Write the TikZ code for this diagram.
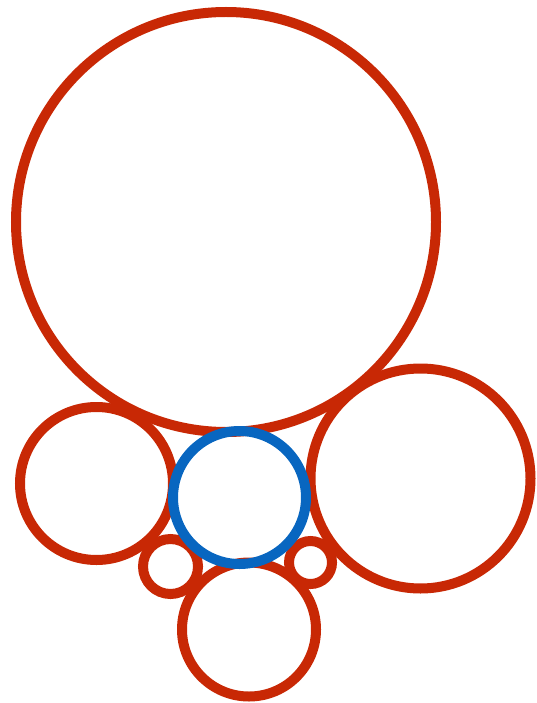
\documentclass[tikz,border=0pt]{standalone}
\definecolor{cred}{RGB}{200,40,5}
\definecolor{cblue}{RGB}{8,102,192}
\begin{document}
\begin{tikzpicture}[x=1pt,y=-1pt,
  ring/.style={draw=cred,line width=10pt,fill=none},
  bluering/.style={draw=cblue,line width=10pt,fill=none}]
\useasboundingbox (0,0) rectangle (536,703);
\draw[ring] (226,222) circle[radius=210];
\draw[ring] (96.5,483.5) circle[radius=76.5];
\draw[ring] (420.5,478.5) circle[radius=110];
\draw[ring] (249,629.5) circle[radius=67];
\draw[ring] (170.5,566.5) circle[radius=27.5];
\draw[ring] (310.5,562.5) circle[radius=21.5];
\draw[bluering] (239.5,497.5) circle[radius=66.5];
\end{tikzpicture}
\end{document}
